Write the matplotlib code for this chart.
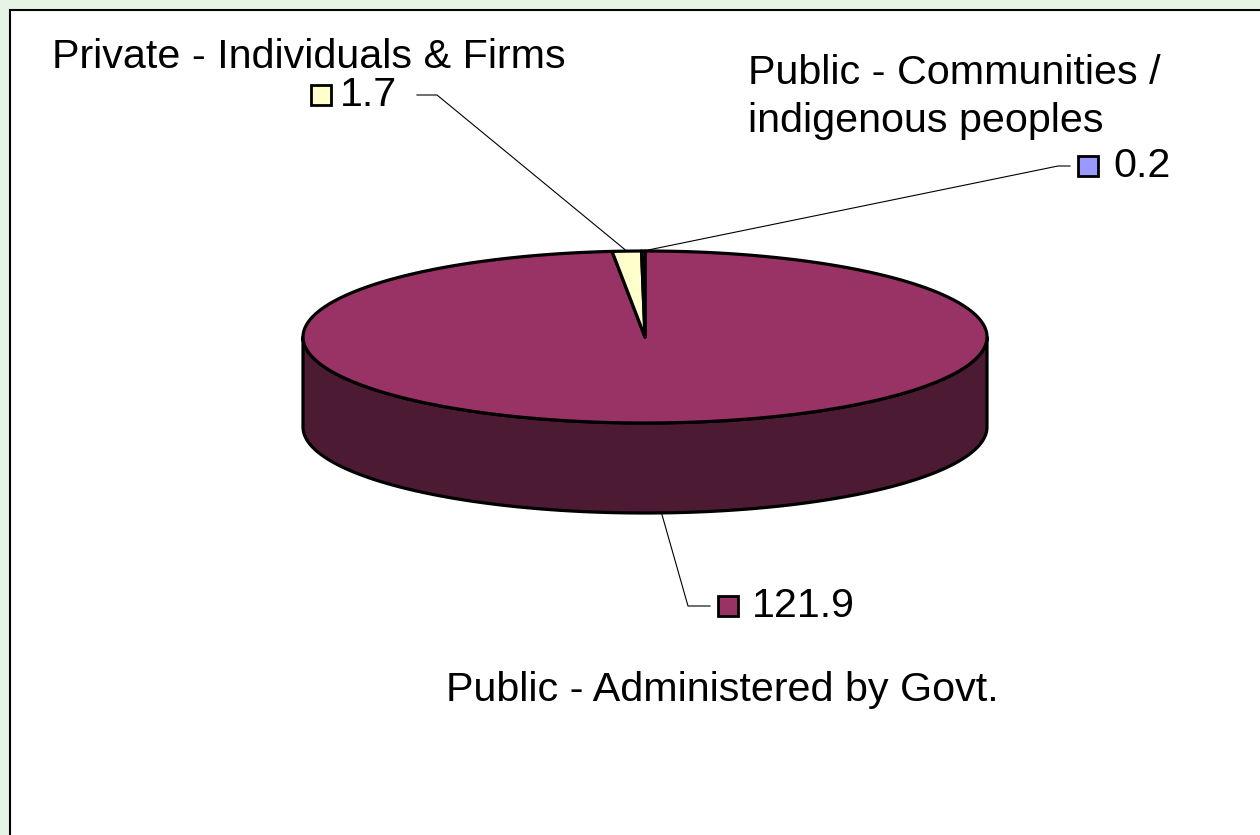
import numpy as np
import matplotlib
matplotlib.use("Agg")
import matplotlib.pyplot as plt
from matplotlib.patches import Polygon, Rectangle

plt.rcParams['font.family'] = ['Liberation Sans', 'DejaVu Sans']

# data
categories = ["Public - Administered by Govt.",
              "Private - Individuals & Firms",
              "Public - Communities /\nindigenous peoples"]
values = [121.9, 1.7, 0.2]
top_colors = ['#993366', '#ffffcc', '#9999ff']
side_colors = ['#4d1a33', '#808066', '#4d4d80']

# pie geometry (pixels)
cx, cy = 645, 337
rx, ry = 342, 86
depth = 90


def edge(theta_deg):
    t = np.radians(theta_deg)
    return cx + rx * np.sin(t), cy - ry * np.cos(t)


fig = plt.figure(figsize=(12.6, 8.35), dpi=100)
fig.patch.set_facecolor('#e6f4e6')
ax = fig.add_axes([0, 0, 1, 1])
ax.set_xlim(0, 1260)
ax.set_ylim(835, 0)
ax.axis('off')

# chart area frame
ax.add_patch(Rectangle((10, 10), 1300, 900, facecolor='white',
                       edgecolor='black', lw=1.5, zorder=0))

# slice angles, clockwise from 12 o'clock
total = sum(values)
bounds = np.concatenate([[0], np.cumsum(values) / total * 360])

# sides (front half only: 90..270)
for i in range(len(values)):
    a0, a1 = max(bounds[i], 90), min(bounds[i + 1], 270)
    if a1 <= a0:
        continue
    th = np.linspace(a0, a1, 200)
    x, y = edge(th)
    pts = np.column_stack([np.concatenate([x, x[::-1]]),
                           np.concatenate([y, y[::-1] + depth])])
    ax.add_patch(Polygon(pts, closed=True, facecolor=side_colors[i],
                         edgecolor='black', lw=2.3, joinstyle='round', zorder=2))

# top faces
for i in range(len(values)):
    th = np.linspace(bounds[i], bounds[i + 1], 300)
    x, y = edge(th)
    pts = np.column_stack([np.concatenate([[cx], x]), np.concatenate([[cy], y])])
    ax.add_patch(Polygon(pts, closed=True, facecolor=top_colors[i],
                         edgecolor='black', lw=2.3, joinstyle='round', zorder=3))

mids = (bounds[:-1] + bounds[1:]) / 2
fs = 29.7

# labels: (marker pos, value text x, leader elbow, category text pos)
lab = [
    dict(mk=(728, 606), tx=752, elbow=[(710, 606), (688, 606)], bottom=True,
         cat=(722, 690), ha='center'),
    dict(mk=(321, 95), tx=340, elbow=[(417, 95), (437, 95)], bottom=False,
         cat=(52, 57), ha='left'),
    dict(mk=(1088, 166), tx=1113, elbow=[(1070, 166), (1058, 166)], bottom=False,
         cat=(748, 97), ha='left'),
]

for i, d in enumerate(lab):
    ex, ey = edge(mids[i])
    if d['bottom']:
        ey = ey + depth
    (x0, y0), (x1, y1) = d['elbow']
    ax.plot([x0, x1, ex], [y0, y1, ey], color='black', lw=0.8, zorder=4)
    ax.plot(*d['mk'], marker='s', ms=15, mfc=top_colors[i], mec='black',
            mew=2, zorder=5)
    ax.text(d['tx'], d['mk'][1], f"{values[i]:.1f}", fontsize=fs,
            ha='left', va='center', zorder=5)
    ax.text(*d['cat'], categories[i], fontsize=fs, ha=d['ha'], va='center',
            linespacing=1.3, zorder=5)

fig.savefig('out.png', dpi=100, facecolor=fig.get_facecolor())
